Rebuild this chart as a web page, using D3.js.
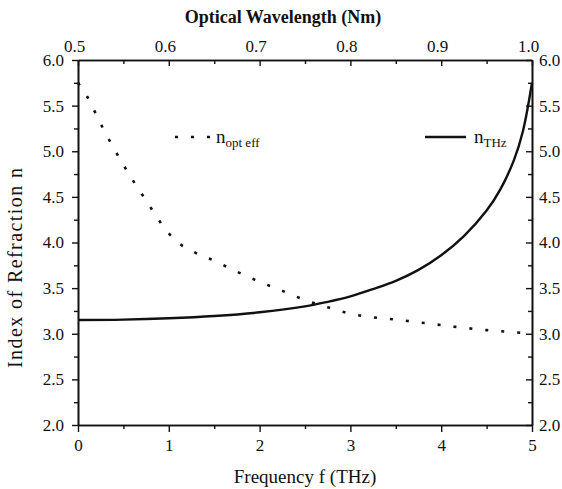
<!DOCTYPE html>
<html>
<head>
<meta charset="utf-8">
<script src="https://cdn.jsdelivr.net/npm/d3@7"></script>
<style>
  html, body { margin: 0; padding: 0; background: #fff; }
</style>
</head>
<body>
<svg id="chart" width="562" height="489"></svg>
<script>
// THz refractive index versus frequency
const thzFreq  = [0, 0.5, 1, 1.5, 2, 2.5, 2.75, 3, 3.25, 3.5, 3.75, 4, 4.25, 4.5, 4.65, 4.8, 4.9, 5];
const thzIndex = [3.15, 3.155, 3.17, 3.195, 3.235, 3.30, 3.35, 3.41, 3.49, 3.58, 3.70, 3.86, 4.07, 4.35, 4.58, 4.90, 5.22, 5.75];

// Effective optical index versus optical wavelength
const optWavelength = [0.500, 0.510, 0.525, 0.550, 0.575, 0.600, 0.610, 0.625, 0.650, 0.675, 0.700, 0.725, 0.750, 0.775, 0.800, 0.825, 0.850, 0.875, 0.900, 0.925, 0.950, 0.975, 1.000];
const optIndex      = [5.75, 5.60, 5.30, 4.85, 4.46, 4.10, 4.00, 3.91, 3.80, 3.68, 3.57, 3.47, 3.37, 3.29, 3.22, 3.18, 3.155, 3.125, 3.095, 3.065, 3.04, 3.02, 3.00];

const freqTicks = [0, 1, 2, 3, 4, 5];
const freqMinor = [0.5, 1.5, 2.5, 3.5, 4.5];
const wlTicks   = [0.5, 0.6, 0.7, 0.8, 0.9, 1.0];
const wlMinor   = [0.55, 0.65, 0.75, 0.85, 0.95];
const nTicks    = [2.0, 2.5, 3.0, 3.5, 4.0, 4.5, 5.0, 5.5, 6.0];
const nMinor    = [2.25, 2.75, 3.25, 3.75, 4.25, 4.75, 5.25, 5.75];

const SERIF = "'Liberation Serif', 'Times New Roman', Times, serif";
const INK = "#111";

const svg = d3.select("#chart").attr("font-family", SERIF).style("font-family", SERIF);
const L = 78, R = 532, T = 60, B = 425;

const x  = d3.scaleLinear().domain([0, 5]).range([L, R]);
const xw = d3.scaleLinear().domain([0.5, 1.0]).range([L, R]);
const y  = d3.scaleLinear().domain([2, 6]).range([B, T]);

const fmt1 = d3.format(".1f");

function styleAxis(g) {
  g.attr("font-family", SERIF).attr("font-size", 17);
  g.selectAll("path").attr("stroke", INK).attr("stroke-width", 1.6);
  g.selectAll("line").attr("stroke", INK).attr("stroke-width", 1.4);
  g.selectAll("text").attr("font-family", SERIF).style("font-family", SERIF)
    .style("font-size", "17px").attr("fill", INK);
}

// bottom axis (frequency), ticks outward
svg.append("g").attr("transform", `translate(0,${B})`)
  .call(d3.axisBottom(x).tickValues(freqTicks).tickFormat(d3.format("d")).tickSizeInner(7).tickSizeOuter(0).tickPadding(7))
  .call(styleAxis);
svg.append("g").attr("transform", `translate(0,${B})`)
  .call(d3.axisBottom(x).tickValues(freqMinor).tickFormat("").tickSizeInner(4).tickSizeOuter(0))
  .call(styleAxis);

// top axis (optical wavelength), ticks inward
svg.append("g").attr("transform", `translate(0,${T})`)
  .call(d3.axisTop(xw).tickValues(wlTicks).tickFormat(fmt1).tickSizeInner(-6).tickSizeOuter(0).tickPadding(8))
  .call(styleAxis)
  .selectAll("text").attr("dx", -4);
svg.append("g").attr("transform", `translate(0,${T})`)
  .call(d3.axisTop(xw).tickValues(wlMinor).tickFormat("").tickSizeInner(-4).tickSizeOuter(0))
  .call(styleAxis);

// left axis, ticks outward
svg.append("g").attr("transform", `translate(${L},0)`)
  .call(d3.axisLeft(y).tickValues(nTicks).tickFormat(fmt1).tickSizeInner(6).tickSizeOuter(0).tickPadding(8))
  .call(styleAxis);
svg.append("g").attr("transform", `translate(${L},0)`)
  .call(d3.axisLeft(y).tickValues(nMinor).tickFormat("").tickSizeInner(4).tickSizeOuter(0))
  .call(styleAxis);

// right axis, ticks inward
svg.append("g").attr("transform", `translate(${R},0)`)
  .call(d3.axisRight(y).tickValues(nTicks).tickFormat(fmt1).tickSizeInner(-6).tickSizeOuter(0).tickPadding(7))
  .call(styleAxis);
svg.append("g").attr("transform", `translate(${R},0)`)
  .call(d3.axisRight(y).tickValues(nMinor).tickFormat("").tickSizeInner(-4).tickSizeOuter(0))
  .call(styleAxis);

// axis titles
function label(sel, size) {
  return sel.attr("font-family", SERIF).style("font-family", SERIF).style("font-size", size).attr("fill", INK);
}
label(svg.append("text"), "18px").attr("x", 283).attr("y", 23).attr("text-anchor", "middle")
  .style("font-weight", "bold").text("Optical Wavelength (Nm)");
label(svg.append("text"), "19px").attr("x", 305).attr("y", 483).attr("text-anchor", "middle")
  .text("Frequency f (THz)");
label(svg.append("text"), "20px").attr("transform", "translate(22,268) rotate(-90)").attr("text-anchor", "middle")
  .attr("textLength", 200).attr("lengthAdjust", "spacing")
  .text("Index of Refraction n");

// curves
const thzLine = d3.line().x((d, i) => x(thzFreq[i])).y(d => y(d)).curve(d3.curveCatmullRom.alpha(0.5));
const optLine = d3.line().x((d, i) => xw(optWavelength[i])).y(d => y(d)).curve(d3.curveMonotoneX);

svg.append("path").attr("d", optLine(optIndex))
  .attr("fill", "none").attr("stroke", INK).attr("stroke-width", 2.6)
  .attr("stroke-dasharray", "3,13");

svg.append("path").attr("d", thzLine(thzIndex))
  .attr("fill", "none").attr("stroke", INK).attr("stroke-width", 2.4);

// legend
const leg = svg.append("g");
leg.append("line").attr("x1", 175).attr("x2", 211).attr("y1", 137).attr("y2", 137)
  .attr("stroke", INK).attr("stroke-width", 2.6).attr("stroke-dasharray", "3,13");
const t1 = label(leg.append("text"), "19px").attr("x", 216).attr("y", 143);
t1.append("tspan").text("n");
t1.append("tspan").attr("dy", 4).style("font-size", "13px").text("opt eff");

leg.append("line").attr("x1", 425).attr("x2", 466).attr("y1", 137).attr("y2", 137)
  .attr("stroke", INK).attr("stroke-width", 2.4);
const t2 = label(leg.append("text"), "19px").attr("x", 474).attr("y", 143);
t2.append("tspan").text("n");
t2.append("tspan").attr("dy", 4).style("font-size", "13px").text("THz");
</script>
</body>
</html>
